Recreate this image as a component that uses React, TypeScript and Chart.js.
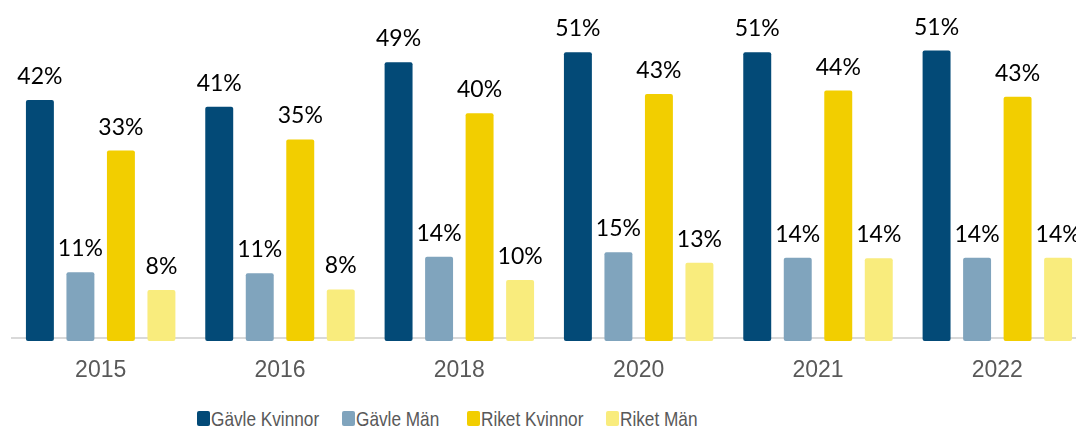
import React, { useEffect, useRef } from "react";
import { Chart, registerables } from "chart.js";

Chart.register(...registerables);

const categories = ["2015", "2016", "2018", "2020", "2021", "2022"];
const gavleKvinnor = [42.0, 40.8, 48.8, 50.6, 50.6, 50.9];
const gavleMan = [11.0, 10.8, 13.8, 14.6, 13.6, 13.6];
const riketKvinnor = [32.9, 34.9, 39.6, 43.1, 43.7, 42.6];
const riketMan = [7.8, 7.9, 9.6, 12.7, 13.5, 13.6];

const seriesNames = ["Gävle Kvinnor", "Gävle Män", "Riket Kvinnor", "Riket Män"];
const seriesColors = ["#034A77", "#80A4BD", "#F2CE00", "#F9EC7D"];
const seriesValues = [gavleKvinnor, gavleMan, riketKvinnor, riketMan];

const yMin = -1.38;
const yMax = 60;
const axisLineValue = -0.75;

const legendX = [197, 342, 467, 606];

const valueLabelPlugin = {
  id: "valueLabels",
  afterDatasetsDraw(chart: any) {
    const ctx = chart.ctx;
    ctx.save();
    ctx.font = "23px Lato, 'Open Sans', sans-serif";
    ctx.fillStyle = "#000000";
    ctx.textAlign = "center";
    ctx.textBaseline = "alphabetic";
    chart.data.datasets.forEach((ds: any, di: number) => {
      const meta = chart.getDatasetMeta(di);
      meta.data.forEach((el: any, i: number) => {
        const v = ds.data[i];
        ctx.fillText(Math.round(v) + "%", el.x, el.y - 16);
      });
    });
    ctx.restore();
  },
};

export default function App() {
  const ref = useRef<HTMLCanvasElement>(null);

  useEffect(() => {
    if (!ref.current) return;
    const chart = new Chart(ref.current, {
      type: "bar",
      data: {
        labels: categories,
        datasets: seriesValues.map((vals, i) => ({
          label: seriesNames[i],
          data: vals,
          backgroundColor: seriesColors[i],
          borderWidth: 0,
          borderRadius: 2,
          borderSkipped: false,
          base: yMin,
          categoryPercentage: 0.9035,
          barPercentage: 0.69,
        })),
      },
      options: {
        responsive: false,
        animation: false,
        devicePixelRatio: 1,
        layout: { padding: { left: 11, right: 3, top: 0, bottom: 0 } },
        plugins: {
          legend: { display: false },
          tooltip: { enabled: false },
        },
        scales: {
          x: {
            grid: { display: false, drawTicks: false },
            border: { display: false },
            ticks: {
              color: "#595959",
              font: { family: "'Liberation Sans', Arial, sans-serif", size: 23 },
              padding: 16,
            },
            afterFit: (s: any) => {
              s.height = 43;
            },
          },
          y: {
            min: yMin,
            max: yMax,
            display: true,
            ticks: { display: false },
            grid: { drawTicks: false, color: "#D9D9D9", lineWidth: 2 },
            border: { display: false },
            afterBuildTicks: (s: any) => {
              s.ticks = [{ value: axisLineValue }];
            },
            afterFit: (s: any) => {
              s.width = 0;
            },
          },
        },
      },
      plugins: [valueLabelPlugin],
    });
    return () => chart.destroy();
  }, []);

  return (
    <div
      style={{
        position: "fixed",
        left: 0,
        top: 0,
        width: 1076,
        height: 427,
        overflow: "hidden",
        background: "#ffffff",
      }}
    >
      <canvas ref={ref} width={1090} height={384} style={{ display: "block", width: 1090, height: 384 }} />
      {seriesNames.map((name, i) => (
        <React.Fragment key={name}>
          <div
            style={{
              position: "absolute",
              left: legendX[i],
              top: 411,
              width: 13,
              height: 15,
              borderRadius: 2,
              background: seriesColors[i],
            }}
          />
          <div
            style={{
              position: "absolute",
              left: legendX[i] + 14,
              top: 408,
              fontFamily: "'Liberation Sans', Arial, sans-serif",
              fontSize: 21,
              lineHeight: "21px",
              color: "#595959",
              whiteSpace: "nowrap",
              transform: "scaleX(0.82)",
              transformOrigin: "0 0",
            }}
          >
            {name}
          </div>
        </React.Fragment>
      ))}
    </div>
  );
}
